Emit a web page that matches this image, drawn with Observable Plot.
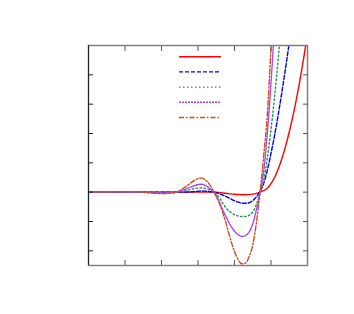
<!DOCTYPE html>
<html>
<head>
<meta charset="utf-8">
<script src="https://cdn.jsdelivr.net/npm/d3@7"></script>
<script src="https://cdn.jsdelivr.net/npm/@observablehq/plot@0.6"></script>
<style>
  html, body { margin: 0; padding: 0; background: #fff; }
  #chart { width: 354px; height: 314px; }
</style>
</head>
<body>
<div id="chart"></div>
<script>
// ---- data ----
const xs = [-3, -2.5, -2.25, -2, -1.75, -1.5, -1.25, -1, -0.75, -0.6,
  -0.5, -0.4, -0.3, -0.2, -0.1, 0, 0.1, 0.2, 0.3, 0.4,
  0.5, 0.6, 0.7, 0.8, 0.9, 1.0, 1.1, 1.2, 1.3, 1.4, 1.5, 1.6, 1.7, 1.8, 1.9,
  2.0, 2.1, 2.2, 2.3, 2.4, 2.5, 2.6, 2.7, 2.8, 2.9, 3.0];

const redVals = [0, 0, 0, 0, 0, 0, 0, 0, 0, 0,
  0, 0, 0, 0, 0, 0.002, 0.003, 0.003, 0.002, 0.001,
  -0.005, -0.015, -0.03, -0.045, -0.06, -0.072, -0.082, -0.088, -0.09, -0.085, -0.068, -0.04, 0, 0.05, 0.13,
  0.29, 0.51, 0.8, 1.15, 1.57, 2.05, 2.59, 3.2, 3.87, 4.6, 5.4];

const blueVals = [0, 0, 0, 0, 0, 0, 0, -0.003, -0.002, 0,
  0, 0.002, 0.005, 0.01, 0.02, 0.03, 0.04, 0.035, 0.025, 0.01,
  -0.02, -0.06, -0.11, -0.17, -0.23, -0.29, -0.34, -0.37, -0.38, -0.36, -0.29, -0.16, 0.02, 0.3, 0.75,
  1.32, 1.95, 2.66, 3.42, 4.24, 5.1, 6.0, 7.0, null, null, null];

const greenVals = [0, 0, 0, 0.003, 0.002, -0.003, -0.008, -0.012, -0.008, -0.002,
  0.015, 0.035, 0.06, 0.09, 0.12, 0.14, 0.15, 0.13, 0.09, 0.03,
  -0.06, -0.22, -0.42, -0.58, -0.69, -0.77, -0.81, -0.83, -0.83, -0.79, -0.68, -0.42, 0, 0.41, 1.16,
  2.13, 3.28, 4.58, 6.0, 7.6, null, null, null, null, null, null];

const purpleVals = [0, 0, 0, 0.006, 0.004, -0.005, -0.015, -0.025, -0.015, -0.003,
  0.03, 0.07, 0.12, 0.17, 0.22, 0.26, 0.27, 0.23, 0.15, 0.05,
  -0.12, -0.38, -0.66, -0.92, -1.15, -1.33, -1.45, -1.51, -1.48, -1.36, -1.08, -0.6, 0, 0.72, 2.03,
  3.73, 5.74, 8.0, 10.5, null, null, null, null, null, null, null];

const orangeVals = [0, 0, 0.005, 0.015, 0.01, -0.005, -0.03, -0.05, -0.035, -0.005,
  0.06, 0.13, 0.22, 0.31, 0.4, 0.46, 0.48, 0.42, 0.29, 0.1,
  -0.15, -0.42, -0.78, -1.2, -1.65, -2.02, -2.3, -2.44, -2.42, -2.2, -1.8, -1.05, 0, 1.25, 2.65,
  4.95, 7.5, 10.5, null, null, null, null, null, null, null, null];

const xTicks = [-2, -1, 0, 1, 2];
const yTicks = [-2, -1, 0, 1, 2, 3, 4];
const xDomain = [-3, 3];
const yDomain = [-2.5, 5];

// ---- styles ----
const series = [
  {vals: redVals,    color: "#ff0000", dash: null},
  {vals: blueVals,   color: "#0000ff", dash: "4,2"},
  {vals: greenVals,  color: "#2e8b57", dash: "1.5,2.5"},
  {vals: purpleVals, color: "#b040ff", dash: "2,1"},
  {vals: orangeVals, color: "#c8501e", dash: "5,2,1.5,2"}
];

const mL = 88, mT = 45, mR = 47, mB = 49;

const lineMarks = series.map(s =>
  Plot.line(xs.map((x, i) => ({x, y: s.vals[i]})), {
    x: "x", y: "y",
    stroke: s.color,
    strokeWidth: 1.4,
    strokeDasharray: s.dash,
    curve: "monotone-x",
    clip: true
  })
);

const chart = Plot.plot({
  width: 354,
  height: 314,
  marginLeft: mL, marginTop: mT, marginRight: mR, marginBottom: mB,
  x: {domain: xDomain},
  y: {domain: yDomain},
  marks: [
    ...lineMarks,
    Plot.frame({stroke: "#808080", strokeWidth: 1.5}),
    Plot.ruleX([xDomain[0]], {stroke: "#222", strokeWidth: 1}),
    Plot.axisX(xTicks, {anchor: "bottom", tickSize: -5, fill: "none", label: null, stroke: "#555"}),
    Plot.axisX(xTicks, {anchor: "top", tickSize: -5, fill: "none", label: null, stroke: "#555"}),
    Plot.axisY(yTicks, {anchor: "left", tickSize: -5, fill: "none", label: null, stroke: "#222"}),
    Plot.axisY(yTicks, {anchor: "right", tickSize: -5, fill: "none", label: null, stroke: "#555"})
  ]
});

document.getElementById("chart").appendChild(chart);

// ---- legend (samples only, no labels) ----
const svg = d3.select(chart);
const lg = svg.append("g");
series.forEach((s, i) => {
  lg.append("line")
    .attr("x1", mL + 91).attr("x2", mL + 133)
    .attr("y1", mT + 11.7 + 15.2 * i).attr("y2", mT + 11.7 + 15.2 * i)
    .attr("stroke", s.color)
    .attr("stroke-width", 1.4)
    .attr("stroke-dasharray", s.dash);
});
</script>
</body>
</html>
